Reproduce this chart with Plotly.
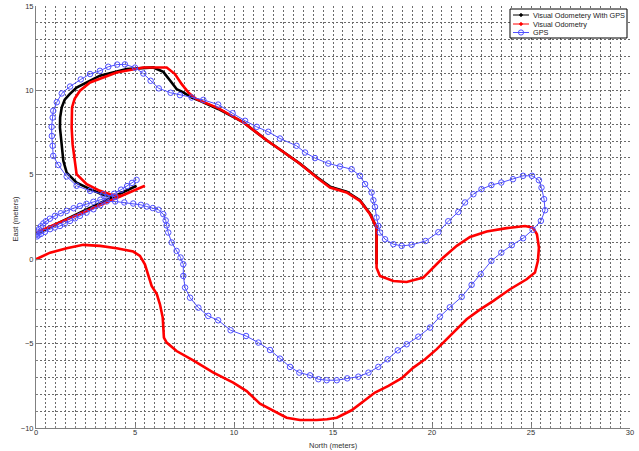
import plotly.graph_objects as go

# ---- trajectories (metres: North, East) ----
vo_gps_north = [17.2, 17.2, 17.2, 16.87, 16.36, 15.69, 14.85, 14.18, 13.33, 12.32, 11.65, 10.48,
                9.2, 8.28, 7.86, 7.44, 7.1, 6.85, 6.43, 5.92, 4.58, 3.23, 2.05, 1.7, 1.45, 1.3,
                1.22, 1.21, 1.28, 1.38, 1.55, 2.05, 2.73, 3.32, 3.82,
                None,
                0.03, 5.08]
vo_gps_east = [-0.3, 0.89, 1.87, 2.7, 3.5, 4.0, 4.3, 4.87, 5.66, 6.5, 7.05, 8.1,
               8.9, 9.38, 9.58, 9.88, 10.08, 10.47, 11.1, 11.36, 11.26, 10.87, 10.17, 9.78, 9.45, 9.0,
               8.4, 7.8, 6.8, 5.83, 5.13, 4.54, 4.15, 3.85, 3.72,
               None,
               1.52, 4.35]

vo_north = [0.0, 0.71, 1.55, 2.39, 3.23, 4.07, 4.91, 5.25, 5.5, 5.67, 5.84, 6.1, 6.26, 6.4,
            6.43, 6.46, 6.6, 7.1, 7.94, 8.96, 9.96, 10.64, 11.31, 11.99, 12.66, 13.33, 14.18,
            14.7, 15.19, 15.94, 16.53, 17.12, 17.8, 18.47, 19.06, 19.65, 20.24, 20.82, 21.33,
            21.75, 22.4, 23.1, 23.94, 24.78, 25.2, 25.35, 25.4, 25.3, 25.1, 24.7, 23.77, 22.76,
            21.92, 21.25, 20.57, 19.9, 19.56, 18.72, 18.05, 17.37, 17.2, 17.2, 17.2, 16.87,
            16.36, 15.69, 14.85, 14.18, 13.33, 12.32, 11.65, 10.48, 9.2, 8.11, 7.69, 7.36, 7.02,
            6.6, 5.42, 4.07, 2.73, 2.22, 1.95, 1.82, 1.8, 1.85, 1.97, 2.05, 2.56, 3.23, 3.74, 4.3,
            None,
            0.03, 5.5]
vo_east = [0.0, 0.39, 0.65, 0.85, 0.79, 0.65, 0.45, 0.2, -0.3, -0.99, -1.58, -2.07, -2.67, -3.46,
           -4.0, -4.65, -4.94, -5.44, -5.99, -6.72, -7.31, -7.81, -8.56, -8.99, -9.39, -9.53, -9.53,
           -9.48, -9.39, -8.95, -8.4, -7.9, -7.51, -7.05, -6.42, -5.93, -5.33, -4.65, -4.05,
           -3.56, -3.0, -2.47, -1.78, -1.19, -0.79, -0.1, 0.69, 1.48, 1.87, 1.97, 1.84, 1.64,
           1.32, 0.79, 0.1, -0.69, -1.09, -1.35, -1.29, -0.99, -0.5, 0.89, 1.87, 2.67,
           3.46, 3.95, 4.25, 4.84, 5.66, 6.5, 7.05, 8.1, 8.95, 9.48, 9.88, 10.37, 10.97,
           11.36, 11.36, 11.06, 10.47, 9.98, 9.5, 8.99, 7.8, 6.8, 5.83, 5.04, 4.45, 4.05, 3.85, 3.74,
           None,
           1.58, 4.35]

gps_north = [5.08, 4.85, 4.6, 4.3, 3.95, 3.57, 3.25, 2.9, 2.55, 2.22, 1.9, 1.55, 1.25, 0.96,
             0.7, 0.5, 0.37, 0.25, 0.15, 0.08, 0.03, 0.05, 0.12, 0.25, 0.45, 0.71, 0.95, 1.21,
             1.45, 1.72, 1.97, 2.22, 2.55, 2.9, 3.25, 3.57, 4.0, 4.46, 4.91, 5.3, 5.59, 5.9, 6.18,
             6.43, 6.55, 6.6, 6.68, 6.85, 7.1, 7.3, 7.44, 7.44, 7.53, 7.78, 8.2, 8.7, 9.2, 9.83,
             10.61, 11.23, 11.82, 12.32, 12.83, 13.3, 13.84, 14.26, 14.68, 15.19, 15.72, 16.28,
             16.79, 17.29, 17.76, 18.27, 18.72, 19.31, 19.9, 20.4, 20.9, 21.5, 22.0, 22.46, 23.0,
             23.5, 24.03, 24.6, 25.08, 25.5, 25.71, 25.66, 25.53, 25.4, 25.05, 24.6, 24.09, 23.5,
             23.0, 22.5, 22.09, 21.67, 21.33, 20.82, 20.32, 19.68, 18.97, 18.47, 18.05, 17.63,
             17.37, 17.29, 17.2, 17.12, 17.04, 16.95, 16.62, 16.36, 15.94, 15.35, 14.76, 14.09,
             13.59, 13.16, 12.32, 11.73, 11.15, 10.56, 9.93, 9.2, 8.45, 7.86, 7.27, 6.8, 6.2,
             5.79, 5.42, 5.0, 4.49, 4.1, 3.65, 3.23, 2.73, 2.26, 1.72, 1.3, 1.05, 0.87, 0.84,
             0.79, 0.8, 0.84, 0.87, 1.13, 1.55, 2.05, 2.73, 3.4, 4.0]
gps_east = [4.7, 4.52, 4.33, 4.12, 3.88, 3.65, 3.52, 3.4, 3.28, 3.16, 3.02, 2.86, 2.72, 2.57,
            2.4, 2.25, 2.12, 1.95, 1.78, 1.62, 1.48, 1.35, 1.42, 1.5, 1.62, 1.78, 1.88, 1.97,
            2.1, 2.27, 2.42, 2.57, 2.76, 2.96, 3.2, 3.42, 3.42, 3.36, 3.3, 3.22, 3.12, 3.03, 2.93,
            2.67, 2.3, 2.0, 1.58, 0.99, 0.49, 0.1, -0.3, -0.99, -1.68, -2.28, -2.87, -3.36, -3.62,
            -4.21, -4.55, -4.94, -5.38, -5.89, -6.38, -6.72, -6.88, -7.11, -7.17, -7.17, -7.06,
            -6.96, -6.72, -6.38, -5.93, -5.4, -5.04, -4.59, -4.05, -3.4, -2.85, -2.23, -1.52,
            -0.89, -0.1, 0.39, 0.83, 1.24, 1.74, 2.27, 2.9, 3.56, 4.24, 4.68, 4.94, 4.94, 4.74,
            4.54, 4.39, 4.15, 3.85, 3.36, 2.8, 2.25, 1.6, 1.08, 0.85, 0.79, 0.89, 1.18, 1.58,
            1.97, 2.47, 3.1, 3.5, 3.95, 4.45, 4.94, 5.33, 5.49, 5.67, 5.99, 6.32, 6.72, 7.15,
            7.55, 7.84, 8.2, 8.65, 9.16, 9.44, 9.58, 9.72, 9.86, 10.12, 10.57, 11.0, 11.35,
            11.54, 11.53, 11.4, 11.16, 10.97, 10.65, 10.23, 9.82, 9.3, 8.79, 8.39, 7.84, 7.3,
            6.72, 6.12, 5.58, 4.9, 4.35, 4.05, 3.85, 3.69]

series_names = ["Visual Odometery With GPS", "Visual Odometry", "GPS"]
x_ticks = [0, 5, 10, 15, 20, 25, 30]
y_ticks = [-10, -5, 0, 5, 10, 15]

FONT = "Liberation Sans, Arial, sans-serif"
TXT = "#333333"
GRID = "#6a6a6a"
GPS_BLUE = "rgb(80,80,255)"

fig = go.Figure()
fig.add_trace(go.Scatter(x=vo_gps_north, y=vo_gps_east, mode="lines", name=series_names[0],
                         line=dict(color="black", width=2.6), connectgaps=False))
fig.add_trace(go.Scatter(x=vo_north, y=vo_east, mode="lines", name=series_names[1],
                         line=dict(color="#ff0000", width=2.6), connectgaps=False))
fig.add_trace(go.Scatter(x=gps_north, y=gps_east, mode="lines+markers", name=series_names[2],
                         line=dict(color=GPS_BLUE, width=1),
                         marker=dict(symbol="circle-open", size=5.5, color=GPS_BLUE,
                                     line=dict(width=1, color=GPS_BLUE))))

axis_common = dict(
    showline=True, linecolor="#808080", linewidth=1, mirror=False,
    showgrid=True, gridcolor=GRID, griddash="2px,2px", gridwidth=1,
    zeroline=False, ticks="inside", ticklen=4, tickcolor="#808080",
    tickfont=dict(family=FONT, size=7.5, color=TXT), automargin=False,
)

fig.update_layout(
    width=639, height=451,
    margin=dict(l=36, r=9, t=6, b=23),
    paper_bgcolor="white", plot_bgcolor="white",
    showlegend=False,
    template="none",
    xaxis=dict(range=[0, 30], tickvals=x_ticks, ticklabelstandoff=-3,
               minor=dict(dtick=0.5, showgrid=True, gridcolor=GRID, griddash="2px,2px",
                          ticks="inside", ticklen=2, tickcolor="#808080"),
               **axis_common),
    yaxis=dict(range=[-10, 15], tickvals=y_ticks,
               minor=dict(dtick=1, showgrid=True, gridcolor=GRID, griddash="2px,2px",
                          ticks="inside", ticklen=2, tickcolor="#808080"),
               **axis_common),
)

# axis titles
fig.add_annotation(text="North (meters)", xref="paper", yref="paper", x=0.5, y=-0.0255,
                   xanchor="center", yanchor="top", showarrow=False,
                   font=dict(family=FONT, size=7.5, color=TXT))
fig.add_annotation(text="East (meters)", xref="paper", yref="paper", x=-0.0345, y=0.495,
                   xanchor="center", yanchor="middle", textangle=-90, showarrow=False,
                   font=dict(family=FONT, size=7.5, color=TXT))

# legend box (paper coordinates of the plot area)
def px_x(p):
    return (p - 36) / 594.0

def px_y(p):
    return (428 - p) / 422.0

fig.add_shape(type="rect", xref="paper", yref="paper",
              x0=px_x(510), x1=px_x(627), y0=px_y(38), y1=px_y(9),
              line=dict(color="black", width=1), fillcolor="white", layer="above")
legend_colors = ["black", "#ff0000", GPS_BLUE]
legend_rows = [15, 24, 32.5]
for name, col, row in zip(series_names, legend_colors, legend_rows):
    fig.add_shape(type="line", xref="paper", yref="paper",
                  x0=px_x(513), x1=px_x(529), y0=px_y(row), y1=px_y(row),
                  line=dict(color=col, width=1), layer="above")
    r = 1.3 if col != GPS_BLUE else 2.6
    fig.add_shape(type="circle", xref="paper", yref="paper",
                  xsizemode="pixel", ysizemode="pixel",
                  xanchor=px_x(521), yanchor=px_y(row),
                  x0=-r, x1=r, y0=-r, y1=r,
                  line=dict(color=col, width=1),
                  fillcolor=col if col != GPS_BLUE else "rgba(0,0,0,0)", layer="above")
    fig.add_annotation(text=name, xref="paper", yref="paper", x=px_x(531), y=px_y(row),
                       xanchor="left", yanchor="middle", showarrow=False,
                       font=dict(family=FONT, size=7.3, color="#222222"))

fig.write_html("out.html")
